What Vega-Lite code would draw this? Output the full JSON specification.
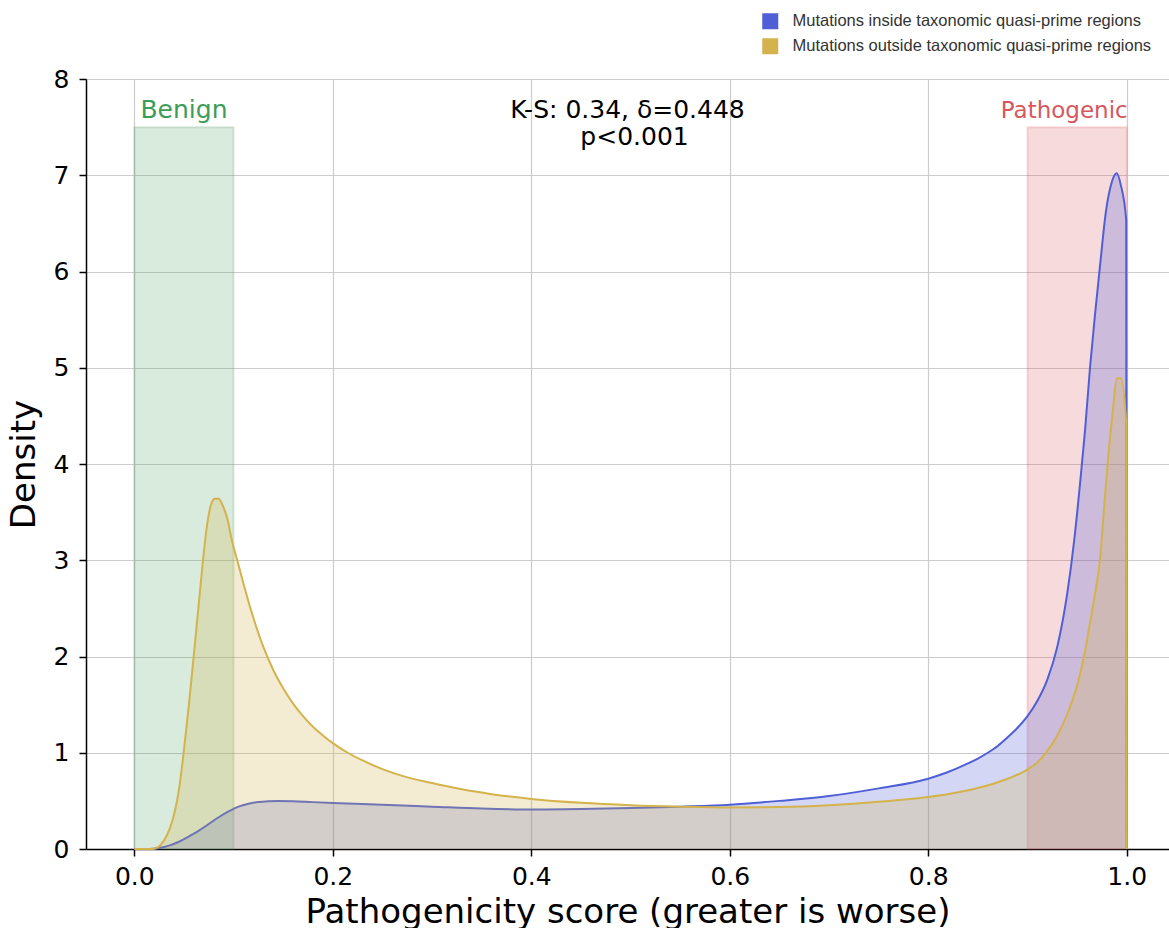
{
  "$schema": "https://vega.github.io/schema/vega-lite/v6.json",
  "width": 1083,
  "height": 770,
  "autosize": {"type": "none"},
  "padding": {"left": 86, "top": 79, "right": 0, "bottom": 79},
  "config": {
    "view": {"stroke": null},
    "axis": {
      "domainColor": "#000000", "domainWidth": 1.5,
      "tickColor": "#000000", "tickWidth": 1.5, "tickSize": 7,
      "gridColor": "#cccccc", "gridWidth": 1.2,
      "labelFont": "DejaVu Sans", "labelFontSize": 25, "labelColor": "#000000",
      "titleFont": "DejaVu Sans", "titleFontSize": 34, "titleFontWeight": "normal", "titleColor": "#000000"
    }
  },
  "datasets": {
    "curves": [
      {"series": "Mutations inside taxonomic quasi-prime regions", "x": 0.0, "y": 0.0},
      {"series": "Mutations inside taxonomic quasi-prime regions", "x": 0.015, "y": 0.0},
      {"series": "Mutations inside taxonomic quasi-prime regions", "x": 0.025, "y": 0.01},
      {"series": "Mutations inside taxonomic quasi-prime regions", "x": 0.035, "y": 0.035},
      {"series": "Mutations inside taxonomic quasi-prime regions", "x": 0.045, "y": 0.075},
      {"series": "Mutations inside taxonomic quasi-prime regions", "x": 0.055, "y": 0.13},
      {"series": "Mutations inside taxonomic quasi-prime regions", "x": 0.065, "y": 0.19},
      {"series": "Mutations inside taxonomic quasi-prime regions", "x": 0.075, "y": 0.26},
      {"series": "Mutations inside taxonomic quasi-prime regions", "x": 0.085, "y": 0.33},
      {"series": "Mutations inside taxonomic quasi-prime regions", "x": 0.095, "y": 0.39},
      {"series": "Mutations inside taxonomic quasi-prime regions", "x": 0.105, "y": 0.44},
      {"series": "Mutations inside taxonomic quasi-prime regions", "x": 0.115, "y": 0.47},
      {"series": "Mutations inside taxonomic quasi-prime regions", "x": 0.125, "y": 0.488},
      {"series": "Mutations inside taxonomic quasi-prime regions", "x": 0.135, "y": 0.497},
      {"series": "Mutations inside taxonomic quasi-prime regions", "x": 0.145, "y": 0.5},
      {"series": "Mutations inside taxonomic quasi-prime regions", "x": 0.16, "y": 0.497},
      {"series": "Mutations inside taxonomic quasi-prime regions", "x": 0.18, "y": 0.487},
      {"series": "Mutations inside taxonomic quasi-prime regions", "x": 0.2, "y": 0.478},
      {"series": "Mutations inside taxonomic quasi-prime regions", "x": 0.25, "y": 0.46},
      {"series": "Mutations inside taxonomic quasi-prime regions", "x": 0.3, "y": 0.44},
      {"series": "Mutations inside taxonomic quasi-prime regions", "x": 0.35, "y": 0.42},
      {"series": "Mutations inside taxonomic quasi-prime regions", "x": 0.4, "y": 0.41},
      {"series": "Mutations inside taxonomic quasi-prime regions", "x": 0.45, "y": 0.415},
      {"series": "Mutations inside taxonomic quasi-prime regions", "x": 0.5, "y": 0.425},
      {"series": "Mutations inside taxonomic quasi-prime regions", "x": 0.55, "y": 0.44},
      {"series": "Mutations inside taxonomic quasi-prime regions", "x": 0.6, "y": 0.46},
      {"series": "Mutations inside taxonomic quasi-prime regions", "x": 0.65, "y": 0.5},
      {"series": "Mutations inside taxonomic quasi-prime regions", "x": 0.7, "y": 0.55},
      {"series": "Mutations inside taxonomic quasi-prime regions", "x": 0.75, "y": 0.63},
      {"series": "Mutations inside taxonomic quasi-prime regions", "x": 0.8, "y": 0.73},
      {"series": "Mutations inside taxonomic quasi-prime regions", "x": 0.82, "y": 0.8},
      {"series": "Mutations inside taxonomic quasi-prime regions", "x": 0.84, "y": 0.89},
      {"series": "Mutations inside taxonomic quasi-prime regions", "x": 0.85, "y": 0.94},
      {"series": "Mutations inside taxonomic quasi-prime regions", "x": 0.86, "y": 1.0},
      {"series": "Mutations inside taxonomic quasi-prime regions", "x": 0.87, "y": 1.07},
      {"series": "Mutations inside taxonomic quasi-prime regions", "x": 0.88, "y": 1.16},
      {"series": "Mutations inside taxonomic quasi-prime regions", "x": 0.89, "y": 1.26},
      {"series": "Mutations inside taxonomic quasi-prime regions", "x": 0.9, "y": 1.38},
      {"series": "Mutations inside taxonomic quasi-prime regions", "x": 0.91, "y": 1.54},
      {"series": "Mutations inside taxonomic quasi-prime regions", "x": 0.92, "y": 1.76},
      {"series": "Mutations inside taxonomic quasi-prime regions", "x": 0.93, "y": 2.1},
      {"series": "Mutations inside taxonomic quasi-prime regions", "x": 0.94, "y": 2.65},
      {"series": "Mutations inside taxonomic quasi-prime regions", "x": 0.947, "y": 3.2},
      {"series": "Mutations inside taxonomic quasi-prime regions", "x": 0.953, "y": 3.8},
      {"series": "Mutations inside taxonomic quasi-prime regions", "x": 0.958, "y": 4.35},
      {"series": "Mutations inside taxonomic quasi-prime regions", "x": 0.963, "y": 5.0},
      {"series": "Mutations inside taxonomic quasi-prime regions", "x": 0.968, "y": 5.55},
      {"series": "Mutations inside taxonomic quasi-prime regions", "x": 0.973, "y": 6.05},
      {"series": "Mutations inside taxonomic quasi-prime regions", "x": 0.979, "y": 6.62},
      {"series": "Mutations inside taxonomic quasi-prime regions", "x": 0.985, "y": 6.93},
      {"series": "Mutations inside taxonomic quasi-prime regions", "x": 0.99, "y": 7.02},
      {"series": "Mutations inside taxonomic quasi-prime regions", "x": 0.994, "y": 6.9},
      {"series": "Mutations inside taxonomic quasi-prime regions", "x": 0.9995, "y": 6.53},
      {"series": "Mutations inside taxonomic quasi-prime regions", "x": 1.0, "y": 0.0},
      {"series": "Mutations outside taxonomic quasi-prime regions", "x": 0.0, "y": 0.0},
      {"series": "Mutations outside taxonomic quasi-prime regions", "x": 0.018, "y": 0.0},
      {"series": "Mutations outside taxonomic quasi-prime regions", "x": 0.024, "y": 0.02},
      {"series": "Mutations outside taxonomic quasi-prime regions", "x": 0.03, "y": 0.09},
      {"series": "Mutations outside taxonomic quasi-prime regions", "x": 0.036, "y": 0.22},
      {"series": "Mutations outside taxonomic quasi-prime regions", "x": 0.041, "y": 0.4},
      {"series": "Mutations outside taxonomic quasi-prime regions", "x": 0.045, "y": 0.62},
      {"series": "Mutations outside taxonomic quasi-prime regions", "x": 0.0497, "y": 1.0},
      {"series": "Mutations outside taxonomic quasi-prime regions", "x": 0.055, "y": 1.5},
      {"series": "Mutations outside taxonomic quasi-prime regions", "x": 0.0598, "y": 2.0},
      {"series": "Mutations outside taxonomic quasi-prime regions", "x": 0.0645, "y": 2.5},
      {"series": "Mutations outside taxonomic quasi-prime regions", "x": 0.0692, "y": 3.0},
      {"series": "Mutations outside taxonomic quasi-prime regions", "x": 0.0735, "y": 3.38},
      {"series": "Mutations outside taxonomic quasi-prime regions", "x": 0.078, "y": 3.6},
      {"series": "Mutations outside taxonomic quasi-prime regions", "x": 0.081, "y": 3.64},
      {"series": "Mutations outside taxonomic quasi-prime regions", "x": 0.085, "y": 3.64},
      {"series": "Mutations outside taxonomic quasi-prime regions", "x": 0.089, "y": 3.57},
      {"series": "Mutations outside taxonomic quasi-prime regions", "x": 0.094, "y": 3.42},
      {"series": "Mutations outside taxonomic quasi-prime regions", "x": 0.098, "y": 3.22},
      {"series": "Mutations outside taxonomic quasi-prime regions", "x": 0.105, "y": 2.95},
      {"series": "Mutations outside taxonomic quasi-prime regions", "x": 0.112, "y": 2.68},
      {"series": "Mutations outside taxonomic quasi-prime regions", "x": 0.12, "y": 2.4},
      {"series": "Mutations outside taxonomic quasi-prime regions", "x": 0.13, "y": 2.1},
      {"series": "Mutations outside taxonomic quasi-prime regions", "x": 0.14, "y": 1.86},
      {"series": "Mutations outside taxonomic quasi-prime regions", "x": 0.15, "y": 1.67},
      {"series": "Mutations outside taxonomic quasi-prime regions", "x": 0.16, "y": 1.51},
      {"series": "Mutations outside taxonomic quasi-prime regions", "x": 0.17, "y": 1.38},
      {"series": "Mutations outside taxonomic quasi-prime regions", "x": 0.18, "y": 1.27},
      {"series": "Mutations outside taxonomic quasi-prime regions", "x": 0.19, "y": 1.18},
      {"series": "Mutations outside taxonomic quasi-prime regions", "x": 0.2, "y": 1.1},
      {"series": "Mutations outside taxonomic quasi-prime regions", "x": 0.215, "y": 1.0},
      {"series": "Mutations outside taxonomic quasi-prime regions", "x": 0.23, "y": 0.92},
      {"series": "Mutations outside taxonomic quasi-prime regions", "x": 0.25, "y": 0.83},
      {"series": "Mutations outside taxonomic quasi-prime regions", "x": 0.27, "y": 0.76},
      {"series": "Mutations outside taxonomic quasi-prime regions", "x": 0.3, "y": 0.685},
      {"series": "Mutations outside taxonomic quasi-prime regions", "x": 0.33, "y": 0.62},
      {"series": "Mutations outside taxonomic quasi-prime regions", "x": 0.36, "y": 0.57},
      {"series": "Mutations outside taxonomic quasi-prime regions", "x": 0.4, "y": 0.52},
      {"series": "Mutations outside taxonomic quasi-prime regions", "x": 0.45, "y": 0.48},
      {"series": "Mutations outside taxonomic quasi-prime regions", "x": 0.5, "y": 0.455},
      {"series": "Mutations outside taxonomic quasi-prime regions", "x": 0.55, "y": 0.44},
      {"series": "Mutations outside taxonomic quasi-prime regions", "x": 0.6, "y": 0.432},
      {"series": "Mutations outside taxonomic quasi-prime regions", "x": 0.65, "y": 0.436},
      {"series": "Mutations outside taxonomic quasi-prime regions", "x": 0.7, "y": 0.455},
      {"series": "Mutations outside taxonomic quasi-prime regions", "x": 0.75, "y": 0.49},
      {"series": "Mutations outside taxonomic quasi-prime regions", "x": 0.8, "y": 0.54},
      {"series": "Mutations outside taxonomic quasi-prime regions", "x": 0.83, "y": 0.59},
      {"series": "Mutations outside taxonomic quasi-prime regions", "x": 0.856, "y": 0.65},
      {"series": "Mutations outside taxonomic quasi-prime regions", "x": 0.88, "y": 0.73},
      {"series": "Mutations outside taxonomic quasi-prime regions", "x": 0.899, "y": 0.82},
      {"series": "Mutations outside taxonomic quasi-prime regions", "x": 0.91, "y": 0.9},
      {"series": "Mutations outside taxonomic quasi-prime regions", "x": 0.92, "y": 1.02},
      {"series": "Mutations outside taxonomic quasi-prime regions", "x": 0.93, "y": 1.18},
      {"series": "Mutations outside taxonomic quasi-prime regions", "x": 0.94, "y": 1.4},
      {"series": "Mutations outside taxonomic quasi-prime regions", "x": 0.95, "y": 1.7},
      {"series": "Mutations outside taxonomic quasi-prime regions", "x": 0.957, "y": 2.0},
      {"series": "Mutations outside taxonomic quasi-prime regions", "x": 0.963, "y": 2.35},
      {"series": "Mutations outside taxonomic quasi-prime regions", "x": 0.968, "y": 2.65},
      {"series": "Mutations outside taxonomic quasi-prime regions", "x": 0.973, "y": 3.0},
      {"series": "Mutations outside taxonomic quasi-prime regions", "x": 0.978, "y": 3.65},
      {"series": "Mutations outside taxonomic quasi-prime regions", "x": 0.982, "y": 4.15},
      {"series": "Mutations outside taxonomic quasi-prime regions", "x": 0.986, "y": 4.55},
      {"series": "Mutations outside taxonomic quasi-prime regions", "x": 0.99, "y": 4.89},
      {"series": "Mutations outside taxonomic quasi-prime regions", "x": 0.994, "y": 4.89},
      {"series": "Mutations outside taxonomic quasi-prime regions", "x": 0.9995, "y": 4.42},
      {"series": "Mutations outside taxonomic quasi-prime regions", "x": 1.0, "y": 0.0}
    ],
    "regions": [
      {"region": "Benign", "start": 0.0, "end": 0.1, "top": 7.5},
      {"region": "Pathogenic", "start": 0.9, "end": 1.0, "top": 7.5}
    ],
    "labels": [
      {"kind": "Benign", "x": 0.05, "y": 7.6, "text": "Benign"},
      {"kind": "Pathogenic", "x": 0.937, "y": 7.6, "text": "Pathogenic"},
      {"kind": "stat", "x": 0.497, "y": 7.6, "text": "K-S: 0.34, δ=0.448"},
      {"kind": "stat", "x": 0.504, "y": 7.31, "text": "p<0.001"}
    ]
  },
  "layer": [
    {
      "data": {"name": "regions"},
      "transform": [{"filter": "datum.region === 'Benign'"}],
      "mark": {"type": "rect", "fill": "#3a9a55", "fillOpacity": 0.2, "stroke": "#3a8a55", "strokeOpacity": 0.18, "strokeWidth": 2},
      "encoding": {
        "x": {"field": "start", "type": "quantitative", "scale": {"domain": [-0.0487, 1.0426], "nice": false, "zero": false},
              "axis": {"values": [0, 0.2, 0.4, 0.6, 0.8, 1.0], "format": ".1f", "title": "Pathogenicity score (greater is worse)", "labelPadding": 8, "titlePadding": 6}},
        "x2": {"field": "end"},
        "y": {"field": "top", "type": "quantitative", "scale": {"domain": [0, 8], "nice": false},
              "axis": {"values": [0, 1, 2, 3, 4, 5, 6, 7, 8], "format": "d", "title": "Density", "labelPadding": 10, "titlePadding": 12}},
        "y2": {"datum": 0}
      }
    },
    {
      "data": {"name": "regions"},
      "transform": [{"filter": "datum.region === 'Pathogenic'"}],
      "mark": {"type": "rect", "fill": "#d64550", "fillOpacity": 0.2, "stroke": "#d64550", "strokeOpacity": 0.18, "strokeWidth": 2},
      "encoding": {
        "x": {"field": "start", "type": "quantitative"},
        "x2": {"field": "end"},
        "y": {"field": "top", "type": "quantitative"},
        "y2": {"datum": 0}
      }
    },
    {
      "data": {"name": "curves"},
      "transform": [{"filter": "datum.series === 'Mutations inside taxonomic quasi-prime regions'"}],
      "mark": {"type": "area", "fillOpacity": 0.25, "interpolate": "monotone"},
      "encoding": {
        "x": {"field": "x", "type": "quantitative"},
        "y": {"field": "y", "type": "quantitative"},
        "color": {"field": "series", "type": "nominal",
                  "scale": {"domain": ["Mutations inside taxonomic quasi-prime regions", "Mutations outside taxonomic quasi-prime regions"], "range": ["#4f5fd6", "#d4b24c"]},
                  "legend": {"orient": "none", "legendX": 676, "legendY": -66, "title": null, "padding": 0,
                             "labelFont": "Liberation Sans", "labelFontSize": 16.5, "labelColor": "#333333", "labelLimit": 0,
                             "symbolType": "square", "symbolSize": 256, "symbolOpacity": 1, "symbolStrokeWidth": 0,
                             "rowPadding": 8, "labelOffset": 14}}
      }
    },
    {
      "data": {"name": "curves"},
      "transform": [{"filter": "datum.series === 'Mutations inside taxonomic quasi-prime regions'"}],
      "mark": {"type": "line", "strokeWidth": 2, "interpolate": "monotone"},
      "encoding": {
        "x": {"field": "x", "type": "quantitative"},
        "y": {"field": "y", "type": "quantitative"},
        "color": {"field": "series", "type": "nominal", "legend": null}
      }
    },
    {
      "data": {"name": "curves"},
      "transform": [{"filter": "datum.series === 'Mutations outside taxonomic quasi-prime regions'"}],
      "mark": {"type": "area", "fillOpacity": 0.25, "interpolate": "monotone"},
      "encoding": {
        "x": {"field": "x", "type": "quantitative"},
        "y": {"field": "y", "type": "quantitative"},
        "color": {"field": "series", "type": "nominal"}
      }
    },
    {
      "data": {"name": "curves"},
      "transform": [{"filter": "datum.series === 'Mutations outside taxonomic quasi-prime regions'"}],
      "mark": {"type": "line", "strokeWidth": 2, "interpolate": "monotone"},
      "encoding": {
        "x": {"field": "x", "type": "quantitative"},
        "y": {"field": "y", "type": "quantitative"},
        "color": {"field": "series", "type": "nominal", "legend": null}
      }
    },
    {
      "data": {"name": "labels"},
      "transform": [{"filter": "datum.kind === 'Benign'"}],
      "mark": {"type": "text", "font": "DejaVu Sans", "fontSize": 25, "color": "#3c9d5a", "align": "center", "baseline": "alphabetic"},
      "encoding": {
        "x": {"field": "x", "type": "quantitative"},
        "y": {"field": "y", "type": "quantitative"},
        "text": {"field": "text"}
      }
    },
    {
      "data": {"name": "labels"},
      "transform": [{"filter": "datum.kind === 'Pathogenic'"}],
      "mark": {"type": "text", "font": "DejaVu Sans", "fontSize": 23, "color": "#d6575e", "align": "center", "baseline": "alphabetic"},
      "encoding": {
        "x": {"field": "x", "type": "quantitative"},
        "y": {"field": "y", "type": "quantitative"},
        "text": {"field": "text"}
      }
    },
    {
      "data": {"name": "labels"},
      "transform": [{"filter": "datum.kind === 'stat'"}],
      "mark": {"type": "text", "font": "DejaVu Sans", "fontSize": 25, "color": "#000000", "align": "center", "baseline": "alphabetic"},
      "encoding": {
        "x": {"field": "x", "type": "quantitative"},
        "y": {"field": "y", "type": "quantitative"},
        "text": {"field": "text"}
      }
    }
  ]
}
